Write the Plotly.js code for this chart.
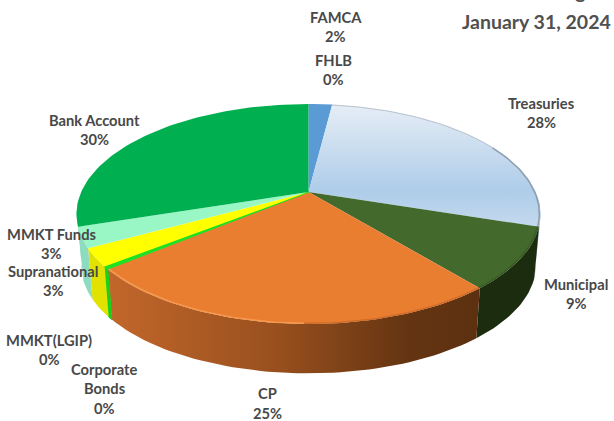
<!DOCTYPE html>
<html><head><meta charset="utf-8">
<script src="https://cdn.plot.ly/plotly-3.0.1.min.js"></script>
<style>html,body{margin:0;padding:0;background:#fff;overflow:hidden}</style></head>
<body><div id="chart" style="width:614px;height:421px"></div>
<script>
const categories = ["FAMCA","FHLB","Treasuries","Municipal","CP","Corporate Bonds","MMKT(LGIP)","Supranational","MMKT Funds","Bank Account"];
const values = [2, 0, 28, 9, 25, 0.2, 0.2, 2.6, 3, 30];
const labelLines = [["FAMCA"],["FHLB"],["Treasuries"],["Municipal"],["CP"],["Corporate","Bonds"],["MMKT(LGIP)"],["Supranational"],["MMKT Funds"],["Bank Account"]];
const titleLines = ["Portfolio Holdings","January 31, 2024"];
const topColors = ["#5b9bd5","#5b9bd5","#aecde9","#44692d","#e97e31","#1fe01f","#1fe01f","#ffff00","#99f7c6","#00b050"];
const wallColors = ["#4a7fb0","#4a7fb0","#8fa3b5","#1c2c0f","#9c5220","#18d018","#18d018","#e2e200","#8ddcc0","#8ddcc0"];
const labelX = [335.5,333,541,576,267,104,49,53,51,94];
const labelY = [16.5,59.5,102.5,283.5,393,368.5,339.5,270.5,233.5,119.5];

const CX=308.5, HUBY=192, A=227.3, B=105.6, K=0.2, WALLHUB=244, WALLSCALE=0.98;
function project(deg){
  const t=deg*Math.PI/180, u=Math.sin(t), v=-Math.cos(t), d=1-K*v;
  return [A*u/d, B*v/d];
}
function arc(a0,a1){
  const n=Math.max(2,Math.ceil(Math.abs(a1-a0)/1.5)), pts=[];
  for(let i=0;i<=n;i++) pts.push(project(a0+(a1-a0)*i/n));
  return pts;
}
const traces=[];
let cum=0; const spans=values.map(v=>{const a0=cum*3.6; cum+=v; return [a0,cum*3.6];});
const isThin=c=>c==="Corporate Bonds"||c==="MMKT(LGIP)";

// side walls
spans.forEach((s,i)=>{
  if(values[i]<=0) return;
  const a0=Math.max(s[0],92), a1=Math.min(s[1],268);
  if(a1<=a0) return;
  const p=arc(a0,a1);
  const xs=p.map(q=>CX+q[0]).concat(p.slice().reverse().map(q=>CX+WALLSCALE*q[0]));
  const ys=p.map(q=>HUBY+q[1]).concat(p.slice().reverse().map(q=>WALLHUB+WALLSCALE*q[1]));
  xs.push(xs[0]); ys.push(ys[0]);
  const tr={x:xs,y:ys,mode:'lines',fill:'toself',line:{width:isThin(categories[i])?1:0,color:wallColors[i]},fillcolor:wallColors[i],hoverinfo:'skip',showlegend:false,type:'scatter'};
  if(categories[i]==="CP"){
    tr.fillgradient={type:'horizontal',colorscale:[[0,'#c2672b'],[0.45,'#99501e'],[0.8,'#653512'],[1,'#5c3010']]};
  }
  traces.push(tr);
});
// top faces
spans.forEach((s,i)=>{
  if(values[i]<=0) return;
  const p=arc(s[0],s[1]);
  const xs=[CX].concat(p.map(q=>CX+q[0]),[CX]);
  const ys=[HUBY].concat(p.map(q=>HUBY+q[1]),[HUBY]);
  const tr={x:xs,y:ys,mode:'lines',fill:'toself',line:{width:isThin(categories[i])?1:0,color:topColors[i]},fillcolor:topColors[i],hoverinfo:'skip',showlegend:false,type:'scatter'};
  if(categories[i]==="Treasuries"){
    tr.fillgradient={type:'vertical',colorscale:[[0,'#c4d9ee'],[0.3,'#aecde9'],[1,'#e6edf6']]};
  }
  traces.push(tr);
});
// bevel highlights along the rim of the top face
function rim(cat,f0,f1,color,width){
  const i=categories.indexOf(cat), s=spans[i];
  const p=arc(s[0]+(s[1]-s[0])*f0,s[0]+(s[1]-s[0])*f1);
  traces.push({x:p.map(q=>CX+q[0]*0.995),y:p.map(q=>HUBY+q[1]*0.995),mode:'lines',line:{width,color},hoverinfo:'skip',showlegend:false,type:'scatter'});
}
rim("Treasuries",0,0.55,'#b9c3ce',1);
rim("Treasuries",0.55,1,'#8f9eae',1.5);
rim("Municipal",0,1,'#3a5a26',1.5);
rim("CP",0,0.45,'#cf6d2a',1.5);
rim("CP",0.45,1,'#f5994f',1.5);

const annotations=[];
labelLines.forEach((lines,i)=>{
  const all=lines.concat([Math.round(values[i])+"%"]);
  all.forEach((t,j)=>annotations.push({xref:'x',yref:'y',x:labelX[i],y:labelY[i]+j*19.5,text:t,showarrow:false,xanchor:'center',yanchor:'middle',
    font:{family:'Lato',size:14.7,color:'#484848',weight:700}}));
});
annotations.push({xref:'paper',yref:'paper',x:596/614,y:1+8/421,text:titleLines[0],showarrow:false,xanchor:'right',yanchor:'middle',
  font:{family:'Lato',size:19.5,color:'#505050',weight:700}});
annotations.push({xref:'x',yref:'y',x:536,y:21.5,text:titleLines[1],showarrow:false,xanchor:'center',yanchor:'middle',
  font:{family:'Lato',size:19.5,color:'#505050',weight:700}});

const hidden={visible:false,fixedrange:true};
Plotly.newPlot('chart',traces,{
  width:614,height:421,margin:{l:0,r:0,t:0,b:0},paper_bgcolor:'#fff',plot_bgcolor:'#fff',showlegend:false,
  xaxis:Object.assign({range:[0,614]},hidden),
  yaxis:Object.assign({range:[421,0]},hidden),
  annotations
},{displayModeBar:false,staticPlot:true});
</script></body></html>
